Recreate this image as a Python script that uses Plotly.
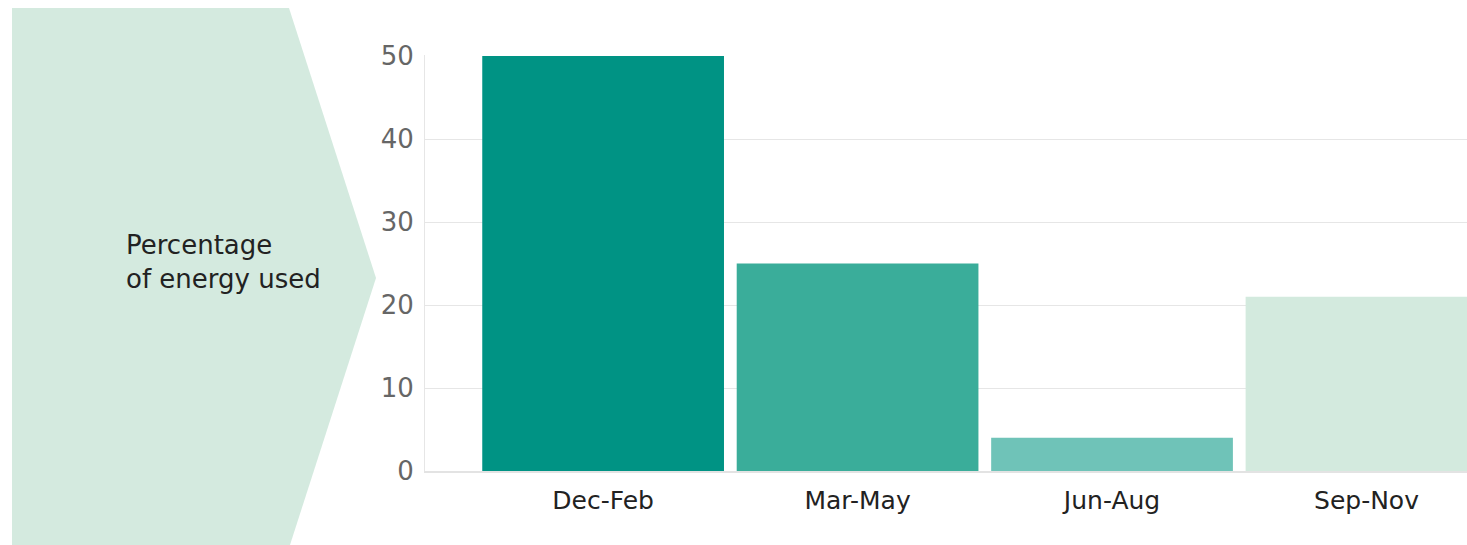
import plotly.graph_objects as go

seasons = ["Dec-Feb", "Mar-May", "Jun-Aug", "Sep-Nov"]
energy_pct = [50, 25, 4, 21]
bar_colors = ["#009384", "#3aad9a", "#6fc3b8", "#d3eade"]
y_ticks = [0, 10, 20, 30, 40, 50]
label_lines = ["Percentage", "of energy used"]

W, H = 1467, 545
L, R, T, B = 425, 0, 55, 74
pw, ph = W - L - R, H - T - B

def px(x):
    return (x - L) / pw

def py(y):
    return (H - B - y) / ph

fig = go.Figure()
fig.add_trace(go.Bar(
    x=seasons, y=energy_pct, marker=dict(color=bar_colors, line=dict(width=0)),
    width=0.95, hoverinfo="x+y", showlegend=False,
))

# chevron background shape
pts = [(12, 8), (289, 8), (376, 278), (289, 548), (12, 548)]
path = "M " + " L ".join(f"{px(x):.5f},{py(y):.5f}" for x, y in pts) + " Z"
fig.add_shape(type="path", path=path, xref="paper", yref="paper",
              fillcolor="#d4eadf", line=dict(width=0), layer="below")

fig.add_annotation(
    text="<br>".join(label_lines), xref="paper", yref="paper",
    x=px(124), y=py(262), xanchor="left", yanchor="middle", align="left",
    showarrow=False, font=dict(family="DejaVu Sans", size=26, color="#222222"),
)

fig.update_layout(
    width=W, height=H, margin=dict(l=L, r=R, t=T, b=B, autoexpand=False),
    paper_bgcolor="white", plot_bgcolor="white",
    font=dict(family="DejaVu Sans"),
    bargap=0.05,
)
fig.update_xaxes(
    range=[-0.7, 3.395], showgrid=False, showline=True, linecolor="#e3e3e3", linewidth=2,
    tickfont=dict(size=25, color="#222222"), ticks="", ticklabelstandoff=6,
    fixedrange=True,
)
fig.update_yaxes(
    range=[0, 50.12], tickvals=y_ticks, showgrid=True, gridcolor="#e6e6e6", gridwidth=1,
    showline=True, linecolor="#e6e6e6", linewidth=1, zeroline=False,
    tickfont=dict(size=26, color="#666666"), ticks="", ticklabelstandoff=5,
    fixedrange=True,
)

fig.write_html(
    "out.html",
    config={"displayModeBar": False},
    post_script="document.body.style.margin='0';document.body.style.overflow='hidden';",
)
